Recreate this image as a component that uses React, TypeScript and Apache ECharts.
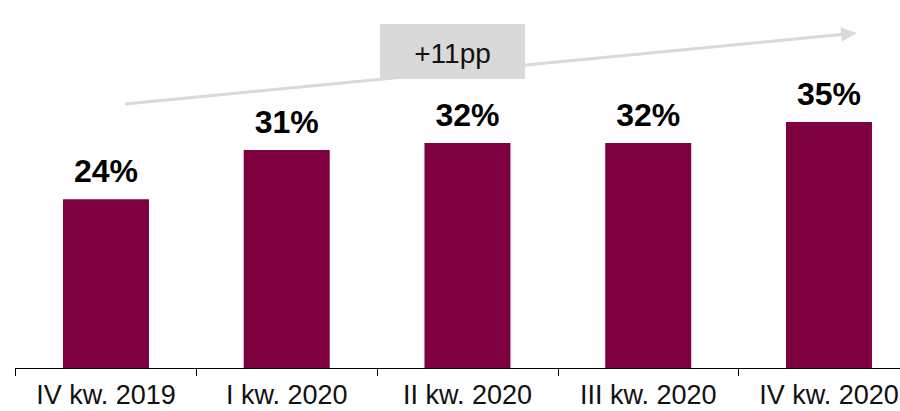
import React, { useEffect, useRef } from "react";
import * as echarts from "echarts";

const categories = ["IV kw. 2019", "I kw. 2020", "II kw. 2020", "III kw. 2020", "IV kw. 2020"];
const shares = [24, 31, 32, 32, 35];
const growthLabel = "+11pp";

const BAR_COLOR = "#7f003e";
const ARROW_COLOR = "#d9d9d9";
const FONT = "'Liberation Sans', Arial, sans-serif";

export default function App() {
  const ref = useRef<HTMLDivElement>(null);

  useEffect(() => {
    if (!ref.current) return;
    const chart = echarts.init(ref.current, null, { renderer: "svg" });

    // arrow geometry (shaft + head)
    const x1 = 125, y1 = 104, x2 = 857, y2 = 33;
    const ang = Math.atan2(y2 - y1, x2 - x1);
    const headLen = 16, headHalf = 7;
    const bx = x2 - headLen * Math.cos(ang), by = y2 - headLen * Math.sin(ang);
    const px = -Math.sin(ang) * headHalf, py = Math.cos(ang) * headHalf;

    chart.setOption({
      animation: false,
      grid: {
        left: 15.6,
        width: 903.75,
        top: 16.5,
        bottom: 43,
        containLabel: false,
        outerBoundsMode: "none",
      },
      xAxis: {
        type: "category",
        data: categories,
        axisLine: { lineStyle: { color: "#000", width: 1 } },
        axisTick: { show: true, interval: 0, length: 8, lineStyle: { color: "#000" } },
        axisLabel: {
          interval: 0,
          hideOverlap: false,
          color: "#111",
          fontSize: 27,
          fontFamily: FONT,
          margin: 13,
        },
      },
      yAxis: {
        type: "value",
        min: 0,
        max: 50,
        show: false,
        splitLine: { show: false },
      },
      series: [
        {
          type: "bar",
          data: shares,
          barWidth: 86,
          itemStyle: { color: BAR_COLOR },
          label: {
            show: true,
            position: "top",
            distance: 12,
            formatter: "{c}%",
            color: "#000",
            fontSize: 32,
            fontWeight: "bold",
            fontFamily: FONT,
          },
        },
      ],
      graphic: [
        {
          type: "line",
          shape: { x1, y1, x2: bx, y2: by },
          style: { stroke: ARROW_COLOR, lineWidth: 3 },
          z: 1,
        },
        {
          type: "polygon",
          shape: { points: [[x2, y2], [bx + px, by + py], [bx - px, by - py]] },
          style: { fill: ARROW_COLOR },
          z: 1,
        },
        {
          type: "rect",
          shape: { x: 380, y: 24, width: 145, height: 55 },
          style: { fill: ARROW_COLOR },
          z: 2,
        },
        {
          type: "text",
          x: 452.5,
          y: 53,
          style: {
            text: growthLabel,
            fill: "#111",
            fontSize: 28,
            fontFamily: FONT,
            align: "center",
            verticalAlign: "middle",
          },
          z: 3,
        },
      ],
    });

    return () => chart.dispose();
  }, []);

  return (
    <div
      ref={ref}
      style={{ position: "absolute", left: 0, top: 0, width: 900, height: 411, overflow: "hidden" }}
    />
  );
}
